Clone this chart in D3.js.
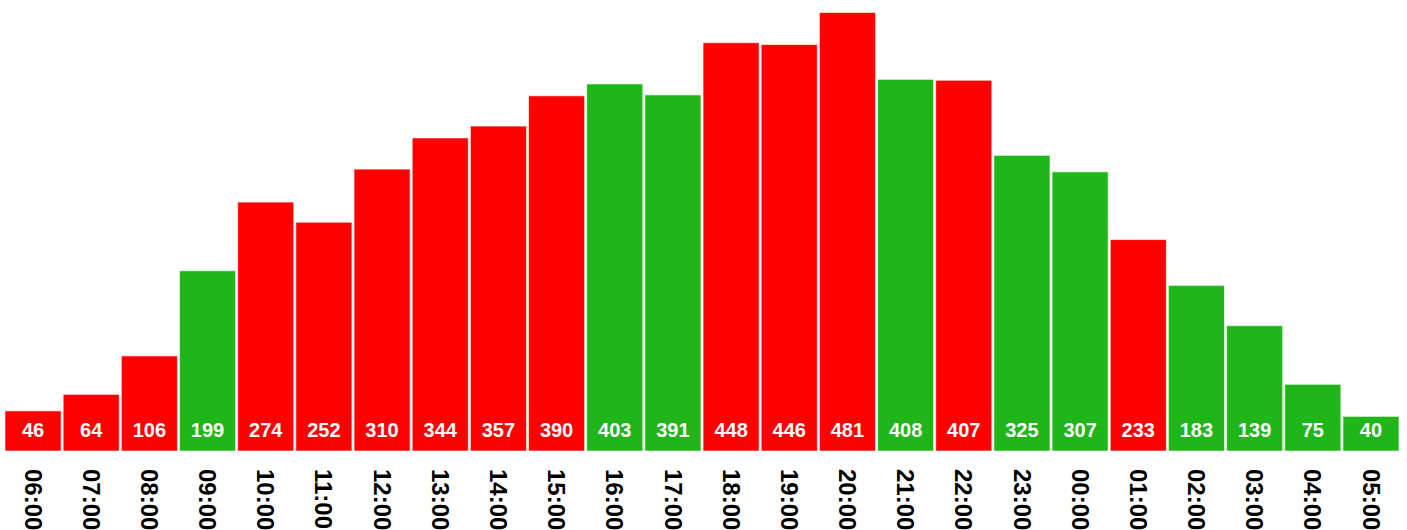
<!DOCTYPE html>
<html>
<head>
<meta charset="utf-8">
<script src="https://cdn.jsdelivr.net/npm/d3@7"></script>
<style>
  html, body { margin: 0; padding: 0; background: #fff; overflow: hidden; }
  svg { display: block; font-family: "Liberation Sans", Arial, sans-serif; }
</style>
</head>
<body>
<svg id="chart" width="1407" height="530"></svg>
<script>
const categories = ["06:00","07:00","08:00","09:00","10:00","11:00","12:00","13:00","14:00","15:00","16:00","17:00","18:00","19:00","20:00","21:00","22:00","23:00","00:00","01:00","02:00","03:00","04:00","05:00"];
const values = [46,64,106,199,274,252,310,344,357,390,403,391,448,446,481,408,407,325,307,233,183,139,75,40];
const colorKeys = ["r","r","r","g","r","r","r","r","r","r","g","g","r","r","r","g","r","g","g","r","g","g","g","g"];

const palette = { r: "#ff0000", g: "#20b519" };

const svg = d3.select("#chart");

const x = d3.scaleBand().domain(categories).range([5, 1399]).paddingInner(0.036).paddingOuter(0);
const y = d3.scaleLinear().domain([0, 481]).range([453, 12.5]);
const baseY = 451;

const data = categories.map((c, i) => ({ c, v: values[i], k: colorKeys[i] }));

svg.selectAll("rect.bar").data(data).enter().append("rect")
  .attr("class", "bar")
  .attr("x", d => x(d.c))
  .attr("y", d => y(d.v))
  .attr("width", x.bandwidth())
  .attr("height", d => baseY - y(d.v))
  .attr("fill", d => palette[d.k])
  .attr("stroke", "rgba(255,255,255,0.6)")
  .attr("stroke-width", 1);

svg.selectAll("text.val").data(data).enter().append("text")
  .attr("class", "val")
  .attr("x", d => x(d.c) + x.bandwidth() / 2)
  .attr("y", 430)
  .attr("dy", "0.35em")
  .attr("text-anchor", "middle")
  .attr("fill", "#fff")
  .attr("font-weight", "bold")
  .attr("font-size", 20)
  .text(d => d.v);

const xAxis = d3.axisBottom(x).tickSize(0).tickPadding(0);
const gx = svg.append("g").attr("transform", "translate(0,469)").call(xAxis);
gx.select(".domain").remove();
gx.selectAll("text")
  .attr("transform", "rotate(90)")
  .attr("x", 0)
  .attr("y", 0)
  .attr("dy", "0.35em")
  .attr("text-anchor", "start")
  .attr("fill", "#000")
  .attr("font-weight", "bold")
  .attr("font-size", 24)
  .attr("font-family", "Liberation Sans, Arial, sans-serif");
</script>
</body>
</html>
